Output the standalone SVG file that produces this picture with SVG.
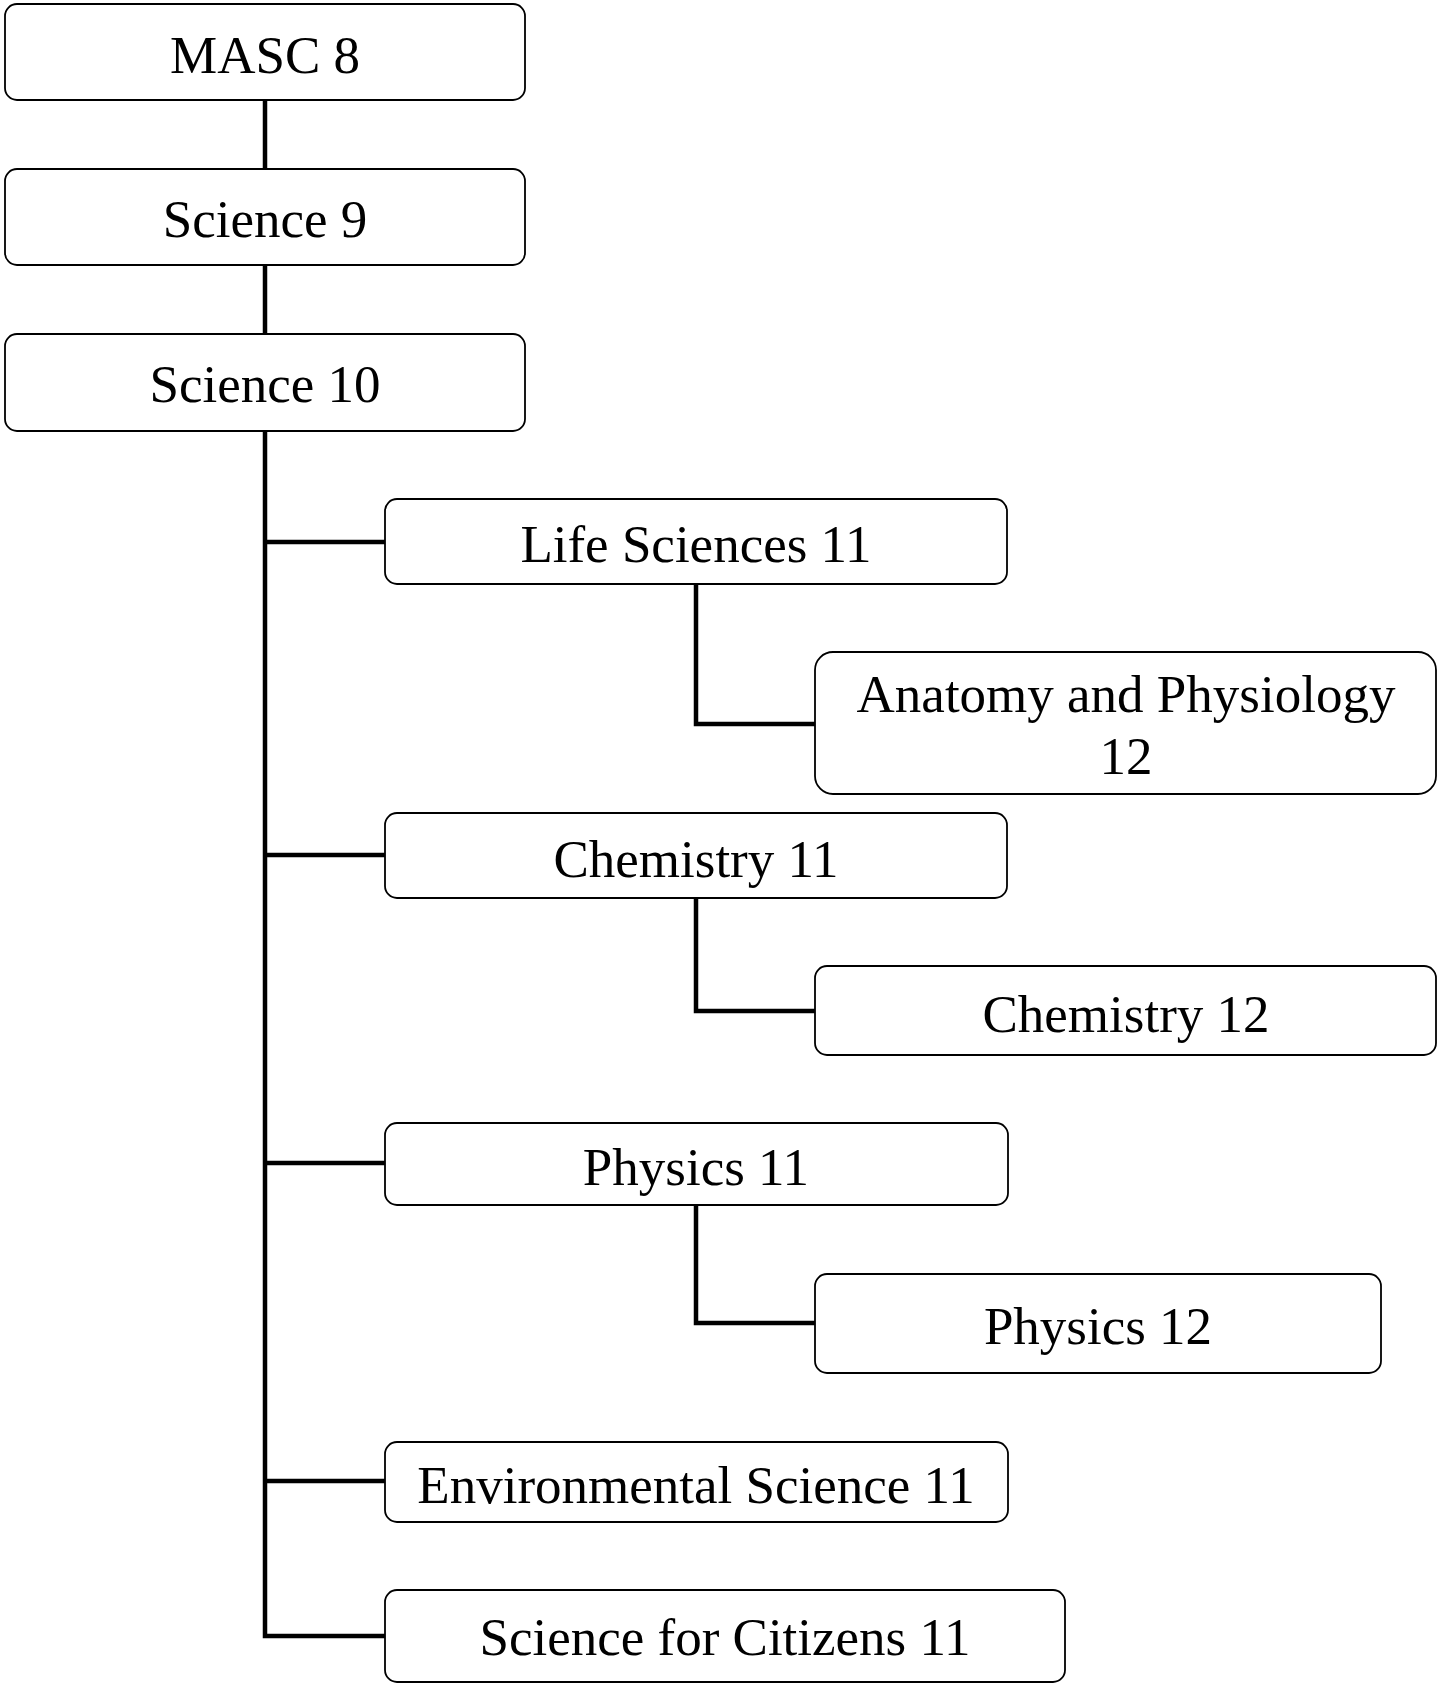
<svg xmlns="http://www.w3.org/2000/svg" width="1445" height="1685" viewBox="0 0 1445 1685">
<style>
.box{fill:#fff;stroke:#000;stroke-width:1.8}
.t{font-family:"Liberation Serif","Times New Roman",serif;font-size:53px;fill:#000;text-anchor:middle}
.c{fill:none;stroke:#000;stroke-width:4.5}
</style>
<rect width="1445" height="1685" fill="#fff"/>
<g id="connectors">
<line class="c" x1="265" y1="100" x2="265" y2="169"/>
<line class="c" x1="265" y1="265" x2="265" y2="334"/>
<polyline class="c" points="265,431 265,1636 385,1636"/>
<line class="c" x1="265" y1="542" x2="385" y2="542"/>
<line class="c" x1="265" y1="855" x2="385" y2="855"/>
<line class="c" x1="265" y1="1163" x2="385" y2="1163"/>
<line class="c" x1="265" y1="1481" x2="385" y2="1481"/>
<polyline class="c" points="696,584 696,724 815,724"/>
<polyline class="c" points="696,898 696,1011 815,1011"/>
<polyline class="c" points="696,1205 696,1323 815,1323"/>
</g>
<g id="masc8"><rect class="box" x="5" y="4" width="520" height="96" rx="12"/><text class="t" x="265" y="73">MASC 8</text></g>
<g id="science9"><rect class="box" x="5" y="169" width="520" height="96" rx="12"/><text class="t" x="265" y="237">Science 9</text></g>
<g id="science10"><rect class="box" x="5" y="334" width="520" height="97" rx="12"/><text class="t" x="265" y="402">Science 10</text></g>
<g id="life11"><rect class="box" x="385" y="499" width="622" height="85" rx="12"/><text class="t" x="696" y="562">Life Sciences 11</text></g>
<g id="anatomy12"><rect class="box" x="815" y="652" width="621" height="142" rx="18"/><text class="t" x="1126" y="712">Anatomy and Physiology</text><text class="t" x="1126" y="774">12</text></g>
<g id="chem11"><rect class="box" x="385" y="813" width="622" height="85" rx="12"/><text class="t" x="696" y="877">Chemistry 11</text></g>
<g id="chem12"><rect class="box" x="815" y="966" width="621" height="89" rx="12"/><text class="t" x="1126" y="1032">Chemistry 12</text></g>
<g id="phys11"><rect class="box" x="385" y="1123" width="623" height="82" rx="12"/><text class="t" x="696" y="1185">Physics 11</text></g>
<g id="phys12"><rect class="box" x="815" y="1274" width="566" height="99" rx="12"/><text class="t" x="1098" y="1344">Physics 12</text></g>
<g id="env11"><rect class="box" x="385" y="1442" width="623" height="80" rx="12"/><text class="t" x="696" y="1503">Environmental Science 11</text></g>
<g id="citizens11"><rect class="box" x="385" y="1590" width="680" height="92" rx="12"/><text class="t" x="725" y="1655">Science for Citizens 11</text></g>
</svg>
